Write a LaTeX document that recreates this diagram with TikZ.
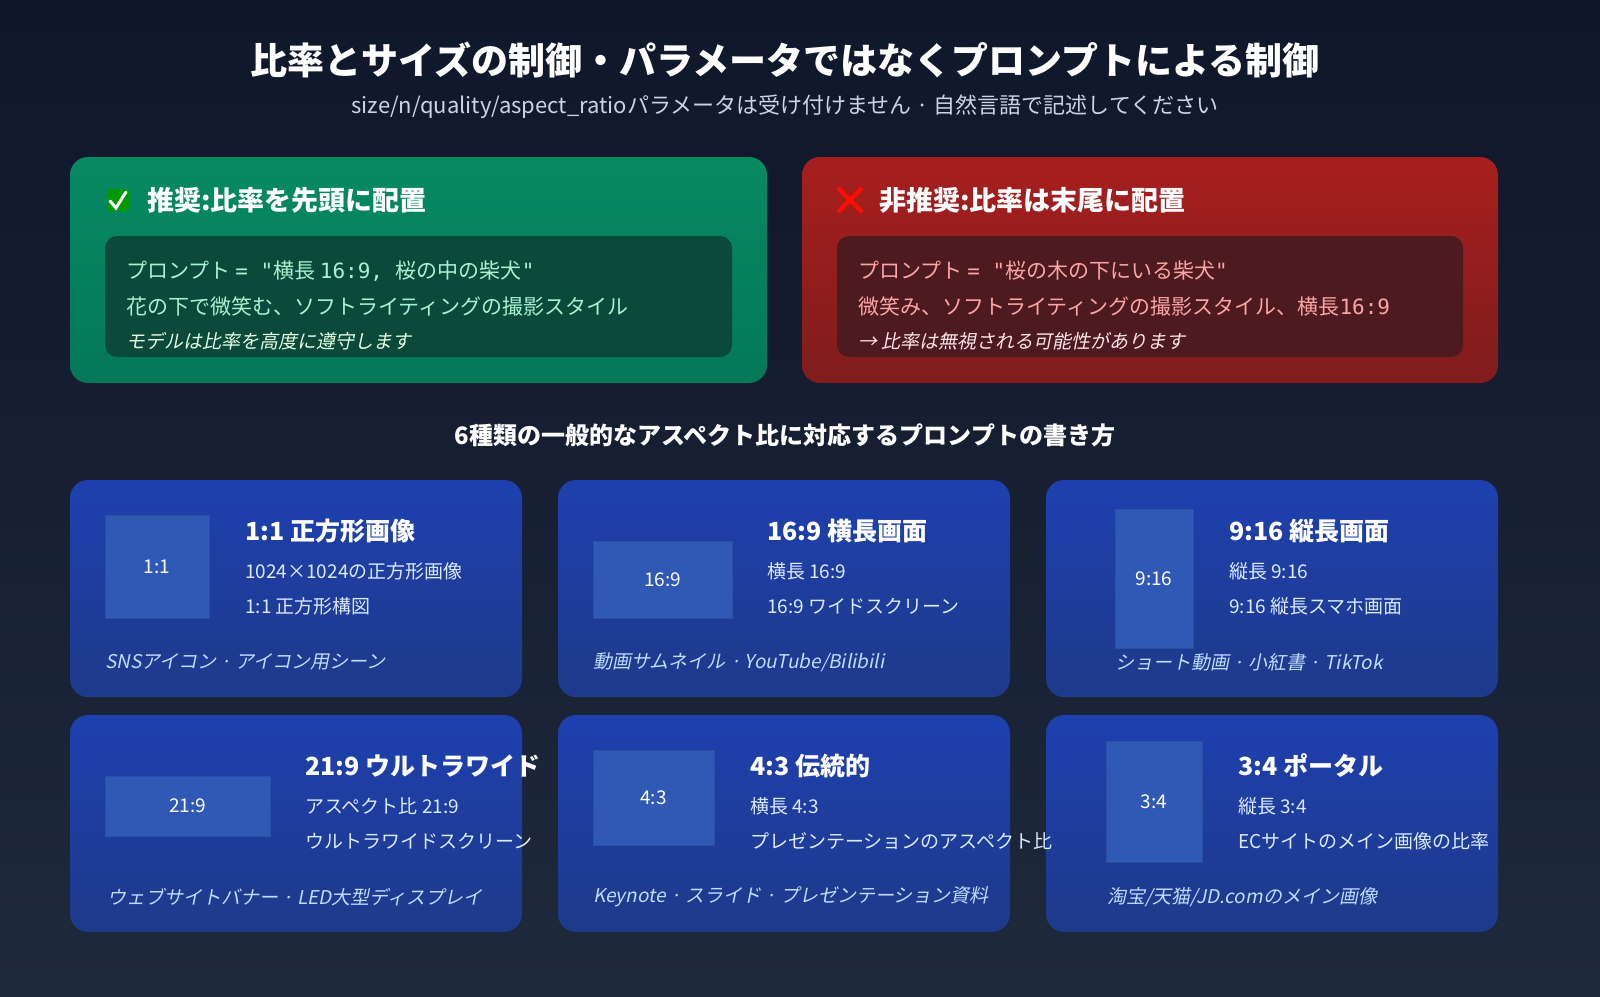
\documentclass[tikz,border=0pt]{standalone}
\usepackage{fontspec}
\setmainfont{Noto Sans CJK JP}
\newfontfamily\jpit[FakeSlant=0.2]{Noto Sans CJK JP}
\newfontfamily\mono{DejaVu Sans Mono}
\definecolor{bgtop}{HTML}{0F172A}
\definecolor{bgbot}{HTML}{1E293B}
\definecolor{gcard}{HTML}{078A62}
\definecolor{gcard2}{HTML}{047857}
\definecolor{ginner}{HTML}{0B4A3B}
\definecolor{gtext}{HTML}{A7F3D0}
\definecolor{rcard}{HTML}{A81E1E}
\definecolor{rcard2}{HTML}{7F1D1D}
\definecolor{rinner}{HTML}{4C1A1F}
\definecolor{rtext}{HTML}{FCA5A5}
\definecolor{btop}{HTML}{1E40AF}
\definecolor{bbot}{HTML}{1E3A8A}
\definecolor{rbox}{HTML}{3058B5}
\definecolor{ltext}{HTML}{DBEAFE}
\definecolor{ftext}{HTML}{BFDBFE}
\definecolor{subt}{HTML}{CBD5E1}
\tikzset{
 card/.style={rounded corners=18pt},
 ratio/.style={fill=rbox,draw=rbox!90!black,text=white,font=\fontsize{19}{22}\selectfont},
 ctitle/.style={anchor=west,text=white,font=\bfseries\fontsize{25}{28}\selectfont,inner sep=0},
 cline/.style={anchor=west,text=ltext,font=\fontsize{19}{22}\selectfont,inner sep=0},
 cfoot/.style={anchor=west,text=ftext,font=\jpit\fontsize{19}{22}\selectfont,inner sep=0},
 pline/.style={anchor=west,font=\fontsize{21}{24}\selectfont,inner sep=0},
}
\begin{document}
\begin{tikzpicture}[x=1pt,y=-1pt]
\useasboundingbox (0,0) rectangle (1600,996);
\shade[top color=bgtop,bottom color=bgbot] (0,0) rectangle (1600,996);
\node[text=white,font=\bfseries\fontsize{37}{42}\selectfont] (title) at (785,60) {比率とサイズの制御・パラメータではなくプロンプトによる制御};
\node[text=subt,font=\fontsize{22}{26}\selectfont] (sub) at (785,107) {size/n/quality/aspect\_ratioパラメータは受け付けません · 自然言語で記述してください};
% green
\shade[card,top color=gcard,bottom color=gcard2] (70,157) rectangle (767,383);
\node[fill=green!60!black,rounded corners=3pt,minimum size=22pt,inner sep=0] (chk) at (118,200) {};
\draw[white,line width=3pt,line cap=round] (110,201) -- (116,208) -- (126,192);
\node[ctitle,font=\bfseries\fontsize{27}{30}\selectfont] (gh) at (147,200) {推奨:比率を先頭に配置};
\fill[ginner,rounded corners=12pt] (105,236) rectangle (732,357);
\node[pline,text=gtext] (g1) at (126,271) {プロンプト {\mono = "}横長 {\mono 16:9, }桜の中の柴犬{\mono "}};
\node[pline,text=gtext] (g2) at (126,306) {花の下で微笑む、ソフトライティングの撮影スタイル};
\node[pline,text=green!10,font=\jpit\fontsize{19}{22}\selectfont] (g3) at (126,341) {モデルは比率を高度に遵守します};
% red
\shade[card,top color=rcard,bottom color=rcard2] (802,157) rectangle (1498,383);
\node[minimum size=24pt,inner sep=0] (xm) at (850,200) {};
\draw[red!90!orange,line width=4pt] (xm.north west) -- (xm.south east) (xm.north east) -- (xm.south west);
\node[ctitle,font=\bfseries\fontsize{27}{30}\selectfont] (rh) at (879,200) {非推奨:比率は末尾に配置};
\fill[rinner,rounded corners=12pt] (837,236) rectangle (1463,357);
\node[pline,text=rtext] (r1) at (858,271) {プロンプト {\mono = "}桜の木の下にいる柴犬{\mono "}};
\node[pline,text=rtext] (r2) at (858,306) {微笑み、ソフトライティングの撮影スタイル、横長{\mono 16:9}};
\node[pline,text=red!10,font=\jpit\fontsize{19}{22}\selectfont] (r3) at (858,341) {→ 比率は無視される可能性があります};
\node[text=white,font=\bfseries\fontsize{24}{28}\selectfont] (sec) at (785,435) {6種類の一般的なアスペクト比に対応するプロンプトの書き方};
% cards
\foreach \x/\y in {70/480,558/480,1046/480,70/715,558/715,1046/715}{
 \shade[card,top color=btop,bottom color=bbot] (\x,\y) rectangle ++(452,217);}
% card 1
\node[ratio,minimum width=104pt,minimum height=103pt] (b1) at (157,566.5) {1:1};
\node[ctitle] (t1) at (245,531) {1:1 正方形画像};
\node[cline] (l1a) at (245,571) {1024×1024の正方形画像};
\node[cline] (l1b) at (245,606) {1:1 正方形構図};
\node[cfoot] (f1) at (105,662) {SNSアイコン · アイコン用シーン};
% card 2
\node[ratio,minimum width=139pt,minimum height=77pt] (b2) at (662.5,579.5) {16:9};
\node[ctitle] (t2) at (767,531) {16:9 横長画面};
\node[cline] (l2a) at (767,571) {横長 16:9};
\node[cline] (l2b) at (767,606) {16:9 ワイドスクリーン};
\node[cfoot] (f2) at (593,662) {動画サムネイル · YouTube/Bilibili};
% card 3
\node[ratio,minimum width=78pt,minimum height=139pt] (b3) at (1154,578.5) {9:16};
\node[ctitle] (t3) at (1229,531) {9:16 縦長画面};
\node[cline] (l3a) at (1229,571) {縦長 9:16};
\node[cline] (l3b) at (1229,606) {9:16 縦長スマホ画面};
\node[cfoot] (f3) at (1115,662) {ショート動画 · 小紅書 · TikTok};
% card 4
\node[ratio,minimum width=165pt,minimum height=60pt] (b4) at (187.5,806) {21:9};
\node[ctitle] (t4) at (305,766) {21:9 ウルトラワイド};
\node[cline] (l4a) at (305,806) {アスペクト比 21:9};
\node[cline] (l4b) at (305,841) {ウルトラワイドスクリーン};
\node[cfoot] (f4) at (107,897) {ウェブサイトバナー · LED大型ディスプレイ};
% card 5
\node[ratio,minimum width=121pt,minimum height=95pt] (b5) at (653.5,797.5) {4:3};
\node[ctitle] (t5) at (750,766) {4:3 伝統的};
\node[cline] (l5a) at (750,806) {横長 4:3};
\node[cline] (l5b) at (750,841) {プレゼンテーションのアスペクト比};
\node[cfoot] (f5) at (593,897) {Keynote · スライド · プレゼンテーション資料};
% card 6
\node[ratio,minimum width=96pt,minimum height=121pt] (b6) at (1154,801.5) {3:4};
\node[ctitle] (t6) at (1238,766) {3:4 ポータル};
\node[cline] (l6a) at (1238,806) {縦長 3:4};
\node[cline] (l6b) at (1238,841) {ECサイトのメイン画像の比率};
\node[cfoot] (f6) at (1107,897) {淘宝/天猫/JD.comのメイン画像};
\end{tikzpicture}
\end{document}
